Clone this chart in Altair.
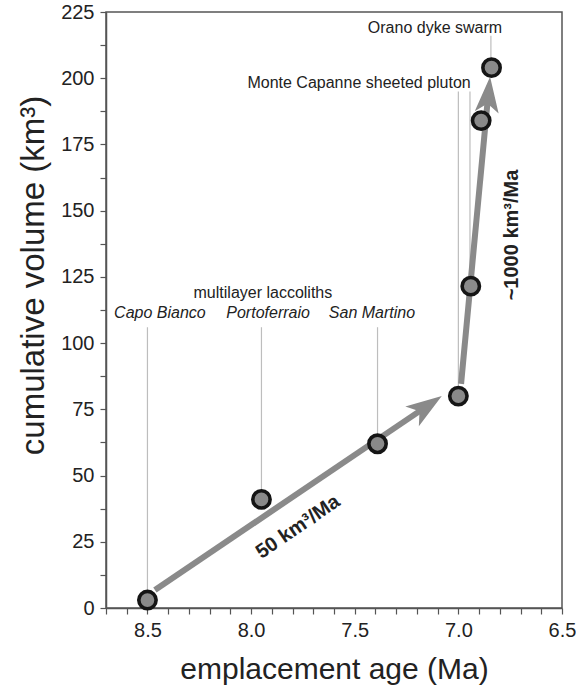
import altair as alt
import pandas as pd

# ---- data ----
point_age = [8.5, 7.95, 7.39, 7.0, 6.94, 6.89, 6.84]
point_vol = [3, 41, 62, 80, 121.5, 184, 204]

leader_age = [8.5, 7.95, 7.39, 7.0, 6.944, 6.843]
leader_from = [3, 41, 62, 80, 121.5, 204]
leader_to = [106, 106, 106, 195, 195, 216]

label_text = ["Orano dyke swarm", "Monte Capanne sheeted pluton", "multilayer laccoliths"]
label_age = [7.113, 7.479, 7.943]
label_vol = [219.0, 198.2, 118.9]

italic_text = ["Capo Bianco", "Portoferraio", "San Martino"]
italic_age = [8.44, 7.918, 7.417]
italic_vol = [111.4, 111.4, 111.4]

arrow_start_age = [8.464, 6.987]
arrow_start_vol = [6.8, 84.6]
arrow_shaft_end_age = [7.18, 6.859]
arrow_shaft_end_vol = [74.7, 191.2]
arrow_tip_age = [7.08, 6.847]
arrow_tip_vol = [80.0, 200.6]
arrow_angle = [55.6, 5.4]

rate_text = ["50 km³/Ma", "~1000 km³/Ma"]
rate_age = [7.774, 6.741]
rate_vol = [30.6, 140.8]
rate_angle = [325.6, 270]

x_ticks = [8.7, 8.6, 8.5, 8.4, 8.3, 8.2, 8.1, 8.0, 7.9, 7.8, 7.7, 7.6, 7.5, 7.4,
           7.3, 7.2, 7.1, 7.0, 6.9, 6.8, 6.7, 6.6, 6.5]
y_ticks = [0, 12.5, 25, 37.5, 50, 62.5, 75, 87.5, 100, 112.5, 125, 137.5, 150,
           162.5, 175, 187.5, 200, 212.5, 225]

FONT = "Liberation Sans"
GREY = "#8a8a8a"

points = pd.DataFrame({"age": point_age, "vol": point_vol})
leaders = pd.DataFrame({"age": leader_age, "vol": leader_from, "v2": leader_to})
labels = pd.DataFrame({"age": label_age, "vol": label_vol, "t": label_text})
italics = pd.DataFrame({"age": italic_age, "vol": italic_vol, "t": italic_text})
shafts = pd.DataFrame({"age": arrow_start_age, "vol": arrow_start_vol,
                       "a2": arrow_shaft_end_age, "v2": arrow_shaft_end_vol})
heads = pd.DataFrame({"age": arrow_tip_age, "vol": arrow_tip_vol, "ang": arrow_angle})
rates = pd.DataFrame({"age": rate_age, "vol": rate_vol, "t": rate_text, "ang": rate_angle})

xs = alt.Scale(domain=[8.7, 6.5], nice=False, zero=False)
ys = alt.Scale(domain=[0, 225], nice=False, zero=False)

x_axis = alt.Axis(
    values=x_ticks, title="emplacement age (Ma)",
    labelExpr="abs(datum.value*2 - round(datum.value*2)) < 0.001 ? format(datum.value, '.1f') : ''",
    labelOverlap=False, labelFlush=False, grid=False,
    titleFontSize=30, titlePadding=14, labelPadding=6,
)
y_axis = alt.Axis(
    values=y_ticks, title="cumulative volume (km³)",
    labelExpr="datum.value % 25 === 0 ? datum.label : ''",
    labelOverlap=False, labelFlush=False, grid=False,
    titleFontSize=33, titlePadding=10, labelPadding=6, titleY=263,
)

X = alt.X("age:Q", scale=xs, axis=x_axis)
Y = alt.Y("vol:Q", scale=ys, axis=y_axis)

lead = alt.Chart(leaders).mark_rule(color="#bdbdbd", strokeWidth=1.2).encode(
    x=X, y=Y, y2="v2:Q",
)

shaft = alt.Chart(shafts).mark_rule(color=GREY, strokeWidth=6).encode(
    x=X, y=Y, x2="a2:Q", y2="v2:Q",
)

head = alt.Chart(heads).mark_point(
    shape="M0,0 L0.6,1.8 L0,1.35 L-0.6,1.8 Z", filled=True, fill=GREY,
    strokeWidth=0, size=1600, opacity=1,
).encode(
    x=X, y=Y, angle=alt.Angle("ang:Q", scale=None),
)

pts = alt.Chart(points).mark_point(
    shape="circle", filled=True, fill=GREY, stroke="#151515", strokeWidth=3.6,
    size=300, opacity=1, strokeOpacity=1,
).encode(x=X, y=Y)

lab = alt.Chart(labels).mark_text(
    font=FONT, fontSize=16, color="#222", align="center", baseline="middle",
).encode(x=X, y=Y, text="t:N")

ital = alt.Chart(italics).mark_text(
    font=FONT, fontSize=16, fontStyle="italic", color="#222", align="center", baseline="middle",
).encode(x=X, y=Y, text="t:N")

rate = alt.Chart(rates).mark_text(
    font=FONT, fontSize=20, fontWeight="bold", color="#222", align="center", baseline="middle",
).encode(
    x=X, y=Y, text="t:N", angle=alt.Angle("ang:Q", scale=None),
)

chart = alt.layer(lead, shaft, head, pts, lab, ital, rate).properties(
    width=456, height=596,
    autosize=alt.AutoSizeParams(type="none"),
    padding={"left": 106, "top": 12, "right": 14, "bottom": 78},
    background="white",
).configure_view(
    stroke="#555", strokeWidth=1.5,
).configure_axis(
    domainColor="#555", domainWidth=1.5, tickColor="#555", tickWidth=1.2, tickSize=6,
    labelFont=FONT, labelFontSize=20, labelColor="#222",
    titleFont=FONT, titleFontWeight="normal", titleColor="#222",
)

chart.save("out.html", embed_options={"renderer": "svg", "actions": False})
